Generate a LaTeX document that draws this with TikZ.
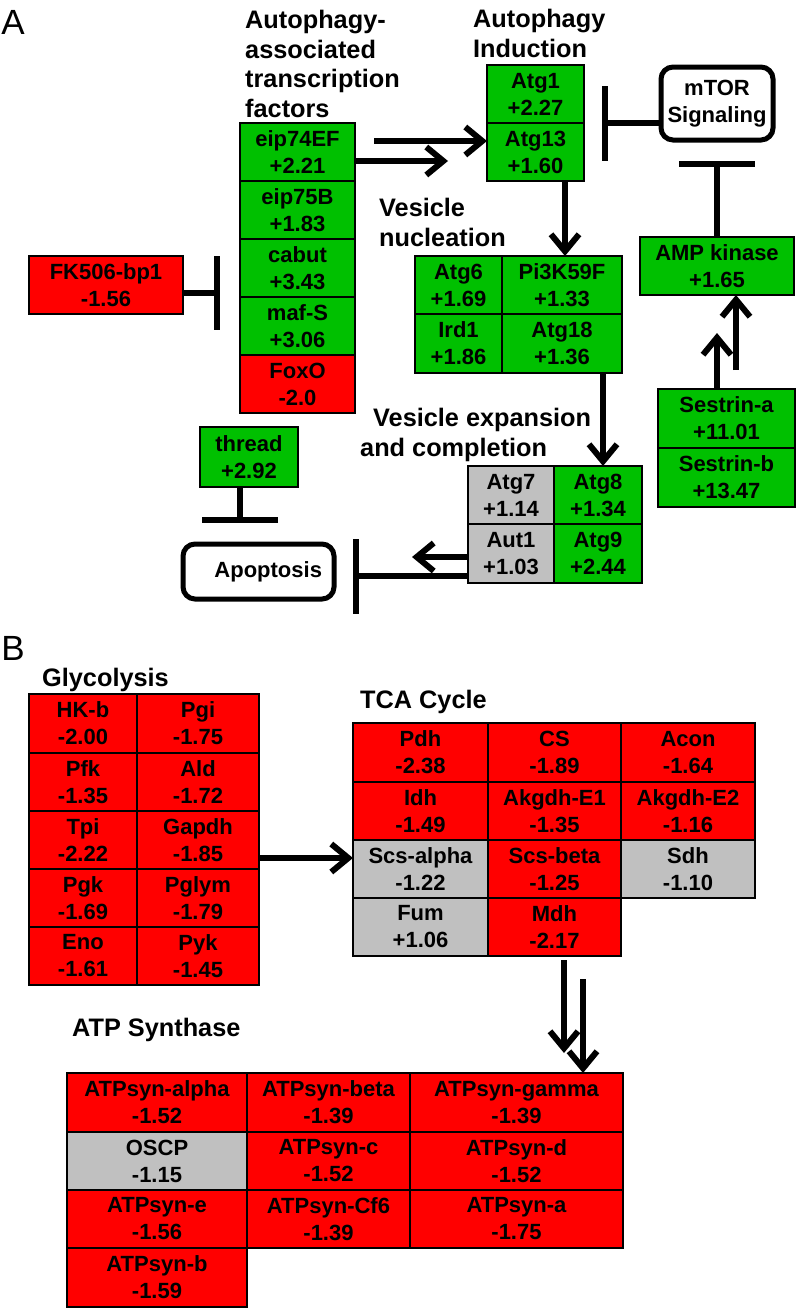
\documentclass[tikz,border=0pt]{standalone}
\usepackage{fontspec}
\setmainfont{Liberation Sans}
\usetikzlibrary{arrows.meta,calc}
\definecolor{grn}{RGB}{0,192,0}
\definecolor{rd}{RGB}{255,0,0}
\definecolor{gry}{RGB}{192,192,192}
\newcommand\cellfont{\fontsize{22}{27}\selectfont\bfseries}
\newcommand\headfont{\fontsize{25.3}{29.5}\selectfont\bfseries}
\newcommand\mycell[7]{\node[cell,fill=#6,minimum width=#4pt,minimum height=#5pt] (#1) at (#2,#3) {#7};}
\begin{document}
\begin{tikzpicture}[x=1pt,y=-1pt,
 cell/.style={draw=black,line width=2.5pt,inner sep=0pt,outer sep=0pt,align=center,font=\cellfont},
 rbox/.style={draw=black,line width=5pt,rounded corners=12pt,inner sep=0pt,outer sep=0pt,align=center,font=\cellfont},
 head/.style={anchor=north west,inner sep=0pt,align=left,font=\headfont},
 letter/.style={inner sep=0pt,font=\fontsize{35}{35}\selectfont},
 arr/.style={line width=6pt,-{Straight Barb[length=17pt,width=28pt]}},
 inh/.style={line width=6pt,-{Bar[width=#1]}},
 inh/.default=75pt]
\useasboundingbox (0,0) rectangle (796,1309);

% ---------- Panel A ----------
\node[letter] (lA) at (13,22) {A};
\node[head] (hTF) at (245,10) {Autophagy-\\associated\\transcription\\factors};
\node[head] (hInd) at (473,9) {Autophagy\\Induction};
\node[head] (hNuc) at (379,198) {Vesicle\\nucleation};
\node[head] (hExp1) at (373,408) {Vesicle expansion};
\node[head] (hExp2) at (360,438) {and completion};

\mycell{eip74}{297.5}{152}{115}{58}{grn}{eip74EF\\+2.21}
\mycell{eip75}{297.5}{210}{115}{58}{grn}{eip75B\\+1.83}
\mycell{cabut}{297.5}{268}{115}{58}{grn}{cabut\\+3.43}
\mycell{mafs}{297.5}{326}{115}{58}{grn}{maf-S\\+3.06}
\mycell{foxo}{297.5}{384}{115}{58}{rd}{FoxO\\-2.0}

\mycell{fk}{106}{285}{154}{58}{rd}{FK506-bp1\\-1.56}

\mycell{atg1}{535.5}{94}{97}{58}{grn}{Atg1\\+2.27}
\mycell{atg13}{535.5}{152}{97}{58}{grn}{Atg13\\+1.60}

\node[rbox,minimum width=112pt,minimum height=73pt] (mtor) at (717,103.5) {mTOR\\Signaling};

\mycell{amp}{717}{266}{154}{58}{grn}{AMP kinase\\+1.65}

\mycell{atg6}{458.5}{285}{87}{58}{grn}{Atg6\\+1.69}
\mycell{pi3k}{562}{285}{120}{58}{grn}{Pi3K59F\\+1.33}
\mycell{ird1}{458.5}{343.5}{87}{59}{grn}{Ird1\\+1.86}
\mycell{atg18}{562}{343.5}{120}{59}{grn}{Atg18\\+1.36}

\mycell{atg7}{511}{495}{86}{58}{gry}{Atg7\\+1.14}
\mycell{atg8}{598}{495}{88}{58}{grn}{Atg8\\+1.34}
\mycell{aut1}{511}{553.5}{86}{59}{gry}{Aut1\\+1.03}
\mycell{atg9}{598}{553.5}{88}{59}{grn}{Atg9\\+2.44}

\mycell{sesa}{726.5}{418.5}{137}{59}{grn}{Sestrin-a\\+11.01}
\mycell{sesb}{726.5}{477.5}{137}{59}{grn}{Sestrin-b\\+13.47}

\mycell{thread}{249}{457}{98}{60}{grn}{thread\\+2.92}

\node[rbox,minimum width=151pt,minimum height=55pt,text width=127pt,align=right] (apop) at (258.5,571.5) {Apoptosis};

% connectors A
\draw[inh=74pt,shorten >=20pt] ([yshift=-8pt]fk.east) -- ([yshift=4pt]cabut.south west);
\draw[arr] ([shift={(19pt,11pt)}]eip74.east) -- ([yshift=11pt]atg13.west);
\draw[arr] ([yshift=-9pt]eip74.east) -- ([shift={(-39pt,-9pt)}]atg13.west);
\draw[inh=75pt,shorten >=18pt] ([yshift=-19.5pt]mtor.west) -- (atg1.south east);
\draw[inh=76pt,shorten >=21pt] (amp.north) -- (mtor.south);
\draw[arr,shorten >=38pt] ([xshift=-9.5pt]sesa.north) -- ([xshift=-9.5pt]sesa.north |- amp.south);
\draw[arr,shorten <=19pt] ([xshift=9.5pt]sesa.north) -- ([xshift=9.5pt]sesa.north |- amp.south);
\draw[arr] ([xshift=29.5pt]atg13.south) -- ([xshift=29.5pt]atg13.south |- pi3k.north);
\draw[arr] ([xshift=41pt]atg18.south) -- ([xshift=41pt]atg18.south |- atg8.north);
\draw[arr,shorten >=78pt] ([yshift=-3.5pt]aut1.west) -- ([yshift=-3.5pt]aut1.west -| apop.east);
\draw[inh=75pt,shorten >=19pt] ([yshift=-22.5pt]aut1.west) -- ([yshift=-22.5pt]aut1.west -| apop.east);
\draw[inh=76pt,shorten >=21pt] ([xshift=-9pt]thread.south) -- ([xshift=-9pt]thread.south |- apop.north);

% ---------- Panel B ----------
\node[letter] (lB) at (13,648) {B};
\node[head] (hGly) at (42,668) {Glycolysis};
\node[head] (hTCA) at (360,690) {TCA Cycle};
\node[head] (hATP) at (72,1018) {ATP Synthase};

\mycell{hk}{83}{723.5}{108}{59}{rd}{HK-b\\-2.00}
\mycell{pgi}{198}{723.5}{122}{59}{rd}{Pgi\\-1.75}
\mycell{pfk}{83}{782}{108}{58}{rd}{Pfk\\-1.35}
\mycell{ald}{198}{782}{122}{58}{rd}{Ald\\-1.72}
\mycell{tpi}{83}{840}{108}{58}{rd}{Tpi\\-2.22}
\mycell{gapdh}{198}{840}{122}{58}{rd}{Gapdh\\-1.85}
\mycell{pgk}{83}{898}{108}{58}{rd}{Pgk\\-1.69}
\mycell{pglym}{198}{898}{122}{58}{rd}{Pglym\\-1.79}
\mycell{eno}{83}{956}{108}{58}{rd}{Eno\\-1.61}
\mycell{pyk}{198}{956}{122}{58}{rd}{Pyk\\-1.45}

\mycell{pdh}{420.5}{752.5}{135}{59}{rd}{Pdh\\-2.38}
\mycell{cs}{554.5}{752.5}{133}{59}{rd}{CS\\-1.89}
\mycell{acon}{688}{752.5}{134}{59}{rd}{Acon\\-1.64}
\mycell{idh}{420.5}{811}{135}{58}{rd}{Idh\\-1.49}
\mycell{ake1}{554.5}{811}{133}{58}{rd}{Akgdh-E1\\-1.35}
\mycell{ake2}{688}{811}{134}{58}{rd}{Akgdh-E2\\-1.16}
\mycell{scsa}{420.5}{869}{135}{58}{gry}{Scs-alpha\\-1.22}
\mycell{scsb}{554.5}{869}{133}{58}{rd}{Scs-beta\\-1.25}
\mycell{sdh}{688}{869}{134}{58}{gry}{Sdh\\-1.10}
\mycell{fum}{420.5}{927}{135}{58}{gry}{Fum\\+1.06}
\mycell{mdh}{554.5}{927}{133}{58}{rd}{Mdh\\-2.17}

\mycell{atpal}{157}{1102.5}{180}{59}{rd}{ATPsyn-alpha\\-1.52}
\mycell{atpbe}{328.5}{1102.5}{163}{59}{rd}{ATPsyn-beta\\-1.39}
\mycell{atpga}{516.5}{1102.5}{213}{59}{rd}{ATPsyn-gamma\\-1.39}
\mycell{oscp}{157}{1161}{180}{58}{gry}{OSCP\\-1.15}
\mycell{atpc}{328.5}{1161}{163}{58}{rd}{ATPsyn-c\\-1.52}
\mycell{atpd}{516.5}{1161}{213}{58}{rd}{ATPsyn-d\\-1.52}
\mycell{atpe}{157}{1219}{180}{58}{rd}{ATPsyn-e\\-1.56}
\mycell{atpcf}{328.5}{1219}{163}{58}{rd}{ATPsyn-Cf6\\-1.39}
\mycell{atpa}{516.5}{1219}{213}{58}{rd}{ATPsyn-a\\-1.75}
\mycell{atpb}{157}{1277.5}{180}{59}{rd}{ATPsyn-b\\-1.59}

% connectors B
\draw[arr] ([yshift=-18pt]gapdh.east) -- ([yshift=11pt]scsa.west);
\draw[arr,shorten <=4pt,shorten >=20pt] ([xshift=9.5pt]mdh.south) -- ([xshift=9.5pt]mdh.south |- atpga.north);
\draw[arr,shorten <=23pt] ([xshift=28.5pt]mdh.south) -- ([xshift=28.5pt]mdh.south |- atpga.north);
\end{tikzpicture}
\end{document}
